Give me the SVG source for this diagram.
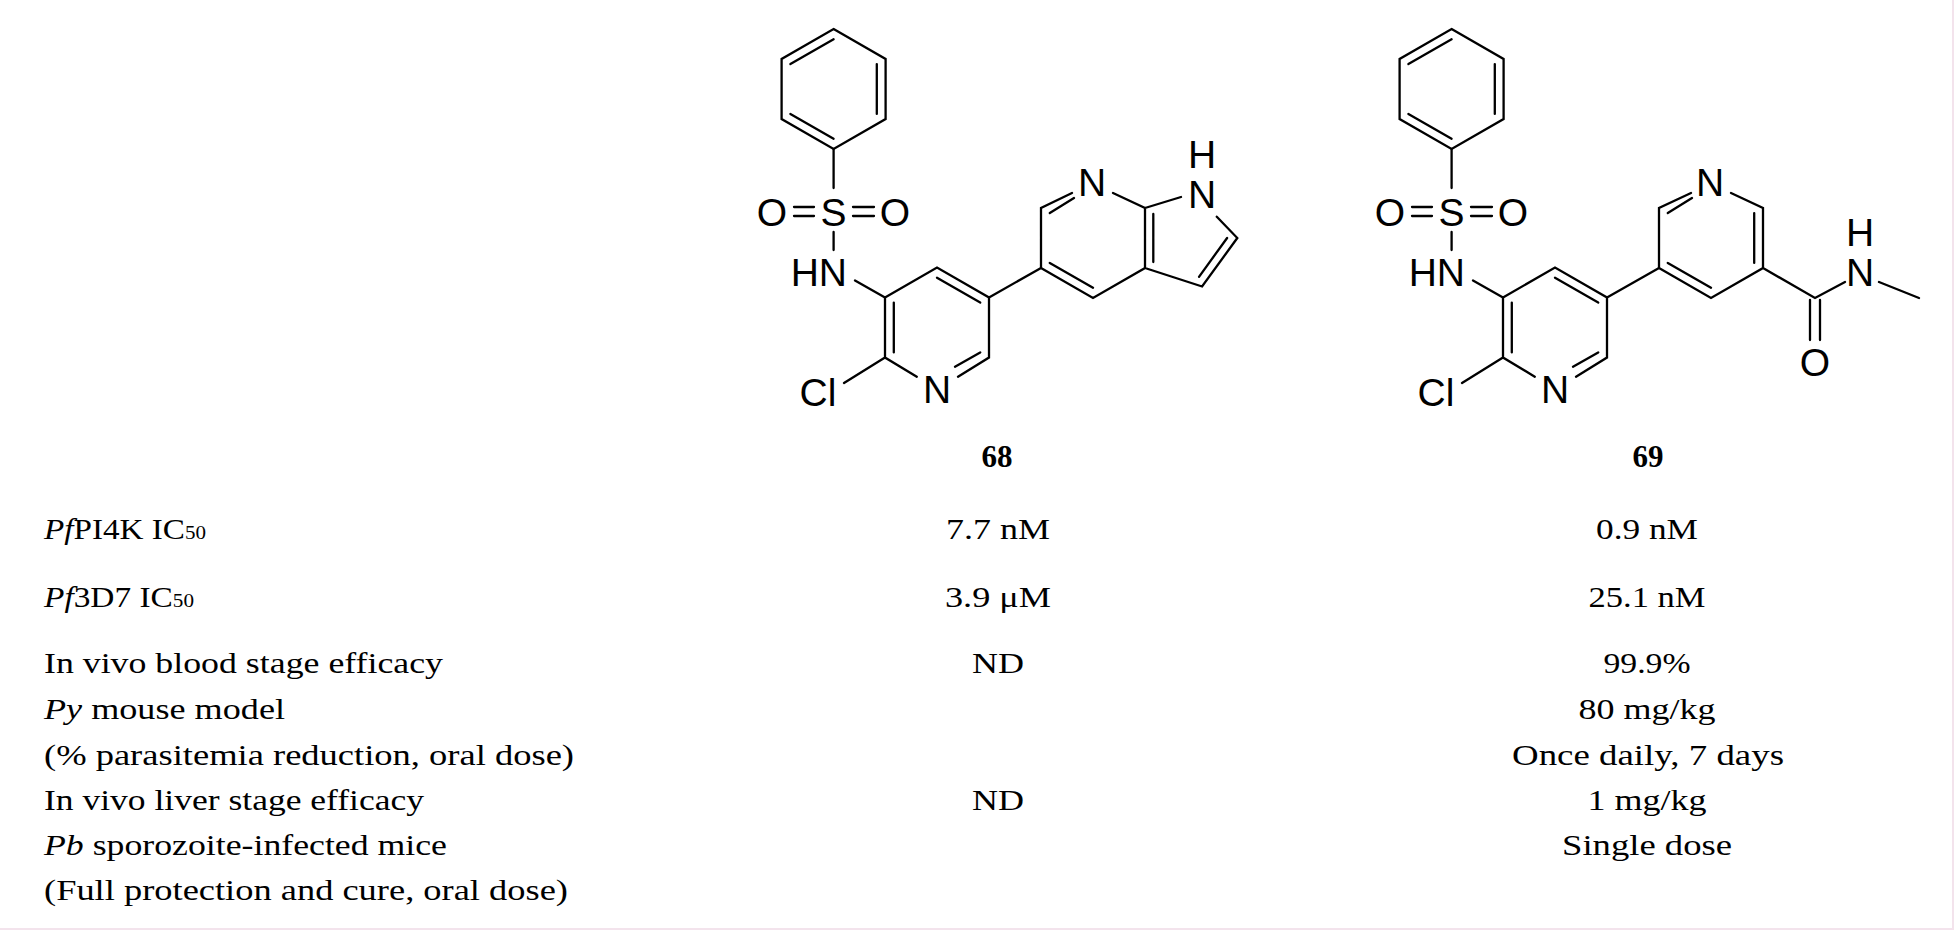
<svg xmlns="http://www.w3.org/2000/svg" xmlns:xlink="http://www.w3.org/1999/xlink" width="1956" height="932" viewBox="0 0 1956 932">
<style>
.b{stroke:#000;stroke-width:2.3;fill:none;stroke-linecap:round}
.a{font-family:"Liberation Sans",Arial,sans-serif;font-size:39px;text-anchor:middle;fill:#000}
.t{font-family:"Liberation Serif","Times New Roman",serif;font-size:30px;fill:#000}
.c{text-anchor:middle}
.s{font-size:19px}
.lbl{font-family:"Liberation Serif","Times New Roman",serif;font-size:31px;font-weight:bold;text-anchor:middle}
</style>
<defs>
<g id="core">
<path class="b" d="M833.6,29 L885.6,59 L885.6,119 L833.6,149 L781.6,119 L781.6,59 Z M790.4,64.1 L833.6,39.2 M876.8,64.1 L876.8,113.9 M790.4,113.9 L833.6,138.8"/>
<path class="b" d="M833.6,149 L833.6,188 M833.6,232 L833.6,250 M794,207 L814,207 M794,216 L814,216 M853,207 L874,207 M853,216 L874,216 M855,280.5 L885,297.5"/>
<text class="a" x="833.6" y="226">S</text>
<text class="a" x="772" y="226">O</text>
<text class="a" x="895" y="226">O</text>
<text class="a" x="847" y="286" style="text-anchor:end">HN</text>
<path class="b" d="M885,297.5 L937,267.5 L989,297.5 L989,357.5 L958,376.7 M885,297.5 L885,357.5 L916.8,376.7 M893.8,302.6 L893.8,352.4 M937,277.7 L980.2,302.6 M980.2,352.4 L955,366.7 M885,357.5 L844,383 M989,297.5 L1041,268"/>
<text class="a" x="937" y="403">N</text>
<text class="a" x="818" y="406">Cl</text>
</g>
</defs>
<g id="mol68">
<use xlink:href="#core" href="#core"/>
<path class="b" d="M1041,268 L1041,208 L1072,193 M1113,193 L1145,208 L1145,268 L1093,298 L1041,268 M1049.8,213.1 L1074,198 M1049.8,262.9 L1093,287.8 M1145,268 L1202.1,286.5 L1237.3,238 L1216.8,216.7 M1181,197 L1145,208 M1153.3,214 L1153.3,262 M1227.1,238 L1199,276.8"/>
<text class="a" x="1092" y="196">N</text>
<text class="a" x="1202" y="208">N</text>
<text class="a" x="1202" y="168">H</text>
<text class="lbl" x="997" y="467">68</text>
</g>
<g id="mol69">
<use xlink:href="#core" href="#core" transform="translate(618,0)"/>
<path class="b" d="M1659,268 L1659,208 L1691,193 M1731,193 L1763,208 L1763,268 L1711,298 L1659,268 M1667.8,213.1 L1692,198 M1754.2,213.1 L1754.2,262.9 M1667.8,262.9 L1711,287.8 M1763,268 L1815,298 L1845,282 M1810,300 L1810,340 M1820,300 L1820,340 M1879,282 L1919,298"/>
<text class="a" x="1710" y="196">N</text>
<text class="a" x="1860" y="286">N</text>
<text class="a" x="1860" y="246">H</text>
<text class="a" x="1815" y="376">O</text>
<text class="lbl" x="1648" y="467">69</text>
</g>
<g id="table">
<text class="t" x="44" y="539" textLength="162" lengthAdjust="spacingAndGlyphs"><tspan font-style="italic">Pf</tspan>PI4K IC<tspan class="s">50</tspan></text>
<text class="t c" x="998" y="539" textLength="104" lengthAdjust="spacingAndGlyphs">7.7 nM</text>
<text class="t c" x="1647" y="539" textLength="102" lengthAdjust="spacingAndGlyphs">0.9 nM</text>
<text class="t" x="44" y="607" textLength="150" lengthAdjust="spacingAndGlyphs"><tspan font-style="italic">Pf</tspan>3D7 IC<tspan class="s">50</tspan></text>
<text class="t c" x="998" y="607" textLength="106" lengthAdjust="spacingAndGlyphs">3.9 μM</text>
<text class="t c" x="1647" y="607" textLength="117" lengthAdjust="spacingAndGlyphs">25.1 nM</text>
<text class="t" x="44" y="673" textLength="399" lengthAdjust="spacingAndGlyphs">In vivo blood stage efficacy</text>
<text class="t c" x="998" y="673" textLength="52" lengthAdjust="spacingAndGlyphs">ND</text>
<text class="t c" x="1647" y="673" textLength="87" lengthAdjust="spacingAndGlyphs">99.9%</text>
<text class="t" x="44" y="719" textLength="241" lengthAdjust="spacingAndGlyphs"><tspan font-style="italic">Py</tspan> mouse model</text>
<text class="t c" x="1647" y="719" textLength="137" lengthAdjust="spacingAndGlyphs">80 mg/kg</text>
<text class="t" x="44" y="765" textLength="530" lengthAdjust="spacingAndGlyphs">(% parasitemia reduction, oral dose)</text>
<text class="t c" x="1648" y="765" textLength="272" lengthAdjust="spacingAndGlyphs">Once daily, 7 days</text>
<text class="t" x="44" y="810" textLength="380" lengthAdjust="spacingAndGlyphs">In vivo liver stage efficacy</text>
<text class="t c" x="998" y="810" textLength="52" lengthAdjust="spacingAndGlyphs">ND</text>
<text class="t c" x="1647" y="810" textLength="119" lengthAdjust="spacingAndGlyphs">1 mg/kg</text>
<text class="t" x="44" y="855" textLength="403" lengthAdjust="spacingAndGlyphs"><tspan font-style="italic">Pb</tspan> sporozoite-infected mice</text>
<text class="t c" x="1647" y="855" textLength="170" lengthAdjust="spacingAndGlyphs">Single dose</text>
<text class="t" x="44" y="900" textLength="524" lengthAdjust="spacingAndGlyphs">(Full protection and cure, oral dose)</text>
</g>
<path d="M1953,0 V929 H0" stroke="#f3e3ec" stroke-width="2" fill="none"/>
</svg>
